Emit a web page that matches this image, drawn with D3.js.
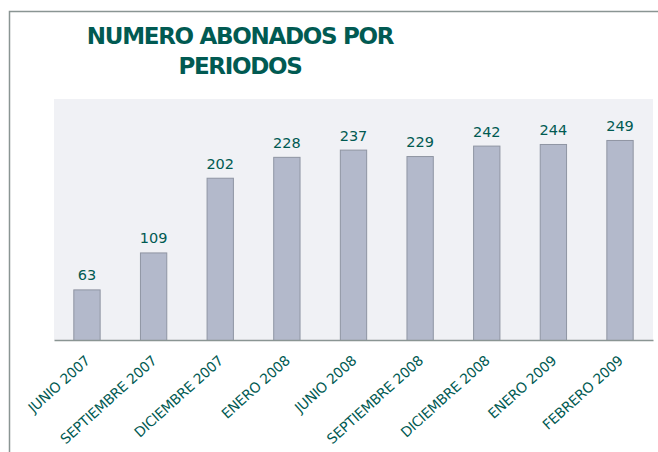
<!DOCTYPE html>
<html>
<head>
<meta charset="utf-8">
<script src="https://d3js.org/d3.v7.min.js"></script>
<style>
  body { margin: 0; background: #fff; }
  svg { display: block; }
</style>
</head>
<body>
<script>
const periods = ["JUNIO 2007", "SEPTIEMBRE 2007", "DICIEMBRE 2007", "ENERO 2008", "JUNIO 2008",
                 "SEPTIEMBRE 2008", "DICIEMBRE 2008", "ENERO 2009", "FEBRERO 2009"];
const abonados = [63, 109, 202, 228, 237, 229, 242, 244, 249];
const titleLines = ["NUMERO ABONADOS POR", "PERIODOS"];

const w = 658, h = 452;
const teal = "#015a52";
const plot = { left: 54, right: 653, top: 99, bottom: 340 };

const svg = d3.select("body").append("svg")
    .attr("width", w)
    .attr("height", h);

// outer frame (only top and left edges visible)
svg.append("path")
    .attr("d", "M9.5," + h + "V11.5H" + w)
    .attr("fill", "none")
    .attr("stroke", "#8a9593")
    .attr("stroke-width", 1.5);

// title
svg.selectAll(".title")
    .data(titleLines)
    .enter()
    .append("text")
    .attr("class", "title")
    .attr("x", 240)
    .attr("y", (d, i) => 44 + i * 30)
    .attr("text-anchor", "middle")
    .style("font-family", "DejaVu Sans")
    .style("font-weight", "bold")
    .style("font-size", "23px")
    .style("letter-spacing", "-1.3px")
    .attr("fill", teal)
    .text(d => d);

// plot background
svg.append("rect")
    .attr("x", plot.left)
    .attr("y", plot.top)
    .attr("width", plot.right - plot.left)
    .attr("height", plot.bottom - plot.top)
    .attr("fill", "#f0f1f5");

const xScale = d3.scaleBand()
    .domain(periods)
    .range([plot.left, plot.right])
    .paddingInner(0.59)
    .paddingOuter(0.29);

const yScale = d3.scaleLinear()
    .domain([0, 300])
    .range([plot.bottom, plot.top]);

svg.selectAll(".bar")
    .data(abonados)
    .enter()
    .append("rect")
    .attr("class", "bar")
    .attr("x", (d, i) => xScale(periods[i]) + 0.5)
    .attr("y", d => yScale(d) + 0.5)
    .attr("width", xScale.bandwidth() - 1)
    .attr("height", d => plot.bottom - yScale(d))
    .attr("fill", "#b3b9cb")
    .attr("stroke", "#8f95a3")
    .attr("stroke-width", 1);

svg.selectAll(".val")
    .data(abonados)
    .enter()
    .append("text")
    .attr("class", "val")
    .attr("x", (d, i) => xScale(periods[i]) + xScale.bandwidth() / 2)
    .attr("y", d => yScale(d) - 9)
    .attr("text-anchor", "middle")
    .style("font-family", "DejaVu Sans")
    .style("font-size", "14.5px")
    .attr("fill", teal)
    .text(d => d);

// x axis
const xAxis = d3.axisBottom(xScale).tickSize(0).tickPadding(0);
const gx = svg.append("g")
    .attr("transform", "translate(0," + plot.bottom + ")")
    .call(xAxis);
gx.select(".domain").attr("stroke", "#8a9593").attr("stroke-width", 1.5);
gx.selectAll("text")
    .attr("text-anchor", "end")
    .attr("transform", "translate(4,22) rotate(-42)")
    .attr("dy", "0")
    .style("font-family", "DejaVu Sans")
    .style("font-size", "14px")
    .style("letter-spacing", "-0.3px")
    .attr("fill", teal);
</script>
</body>
</html>
